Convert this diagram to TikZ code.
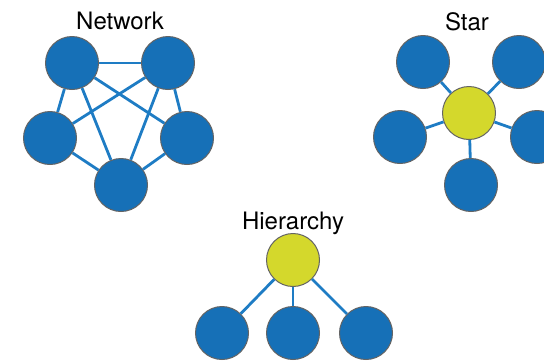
\documentclass[tikz,border=0pt]{standalone}
\usepackage{fontspec}
\setmainfont{TeX Gyre Heros}
\usetikzlibrary{calc}
\definecolor{nodeblue}{RGB}{22,112,183}
\definecolor{linkblue}{RGB}{30,124,196}
\definecolor{hubyellow}{RGB}{212,216,44}
\definecolor{rimgray}{RGB}{100,100,100}

\begin{document}
\begin{tikzpicture}[x=1pt, y=-1pt,
    member/.style={circle, draw=rimgray, line width=1pt, fill=nodeblue, minimum size=53pt, inner sep=0pt},
    hub/.style={member, fill=hubyellow},
    link/.style={draw=linkblue, line width=2.8pt},
    heading/.style={font=\fontsize{24}{26}\selectfont, inner sep=0pt}]
            \useasboundingbox (0,0) rectangle (544,360);
            % network
            \node[heading] (nettitle) at (120,21) {Network};
            \node[member] (n1) at (72,63) {};
            \node[member] (n2) at (168,63) {};
            \node[member] (n3) at (50,138) {};
            \node[member] (n4) at (187,138) {};
            \node[member] (n5) at (121,185) {};
            \foreach \a/\b in {n1/n2, n1/n3, n1/n4, n1/n5, n2/n3, n2/n4, n2/n5, n3/n5, n4/n5}
                \draw[link] (\a) -- (\b);
            % star
            \node[heading] (startitle) at (467,22) {Star};
            \node[hub] (sc) at (469,113) {};
            \node[member] (s1) at (423,62) {};
            \node[member] (s2) at (519,62) {};
            \node[member] (s3) at (400,137) {};
            \node[member] (s4) at (537,137) {};
            \node[member] (s5) at (471,185) {};
            \foreach \b in {s1,s2,s3,s4,s5}
                \draw[link] (sc) -- (\b);
            % hierarchy
            \node[heading] (hiertitle) at (293,223) {Hierarchy};
            \node[hub] (hc) at (293,260) {};
            \node[member] (h1) at (222,333) {};
            \node[member] (h2) at (293,333) {};
            \node[member] (h3) at (366,333) {};
            \foreach \b in {h1,h2,h3}
                \draw[link] (hc) -- (\b);
\end{tikzpicture}
\end{document}
